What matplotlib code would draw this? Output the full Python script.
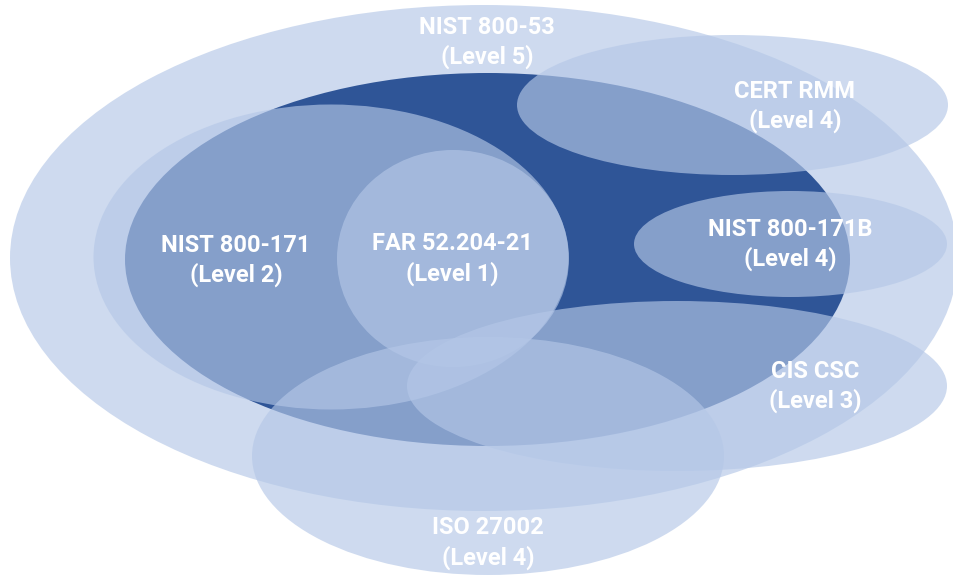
import matplotlib
matplotlib.use("Agg")
import matplotlib.pyplot as plt
from matplotlib.patches import Ellipse

# frameworks and their CMMC level
names = ["NIST 800-53", "CMMC", "NIST 800-171", "FAR 52.204-21", "CERT RMM",
         "NIST 800-171B", "CIS CSC", "ISO 27002"]
levels = ["Level 5", None, "Level 2", "Level 1", "Level 4", "Level 4", "Level 3", "Level 4"]

# ellipse geometry in pixels (centre x, centre y, width, height)
cx = [484, 487.5, 331, 453, 732.5, 790.5, 677, 488]
cy = [258, 259.5, 257, 258.5, 105, 244, 386, 456]
ew = [948, 725, 475, 232, 431, 313, 540, 472]
eh = [506, 373, 305, 217, 140, 106, 170, 238]

# label positions (line 1 / line 2 centre)
lx = [487, None, 236, 452, 795, 790, 815, 488]
ly = [27, None, 245, 244, 91, 229, 371, 528]

light = "#B4C7E7"
dark = "#2F5597"

fig = plt.figure(figsize=(9.54, 5.76), dpi=100)
ax = fig.add_axes([0, 0, 1, 1])
ax.set_xlim(0, 954)
ax.set_ylim(576, 0)
ax.axis("off")

for i in range(len(names)):
    if names[i] == "CMMC":
        e = Ellipse((cx[i], cy[i]), ew[i], eh[i], facecolor=dark, edgecolor="none", zorder=i)
    else:
        e = Ellipse((cx[i], cy[i]), ew[i], eh[i], facecolor=light, alpha=0.65,
                    edgecolor="none", zorder=i)
    ax.add_patch(e)

for i in range(len(names)):
    if levels[i] is None:
        continue
    ax.text(lx[i], ly[i], names[i], ha="center", va="center", color="white",
            fontsize=17, fontweight="bold", family="Roboto", zorder=20)
    ax.text(lx[i], ly[i] + 30, "(" + levels[i] + ")", ha="center", va="center",
            color="white", fontsize=17, fontweight="bold", family="Roboto", zorder=20)

fig.savefig("out.png", dpi=100)
